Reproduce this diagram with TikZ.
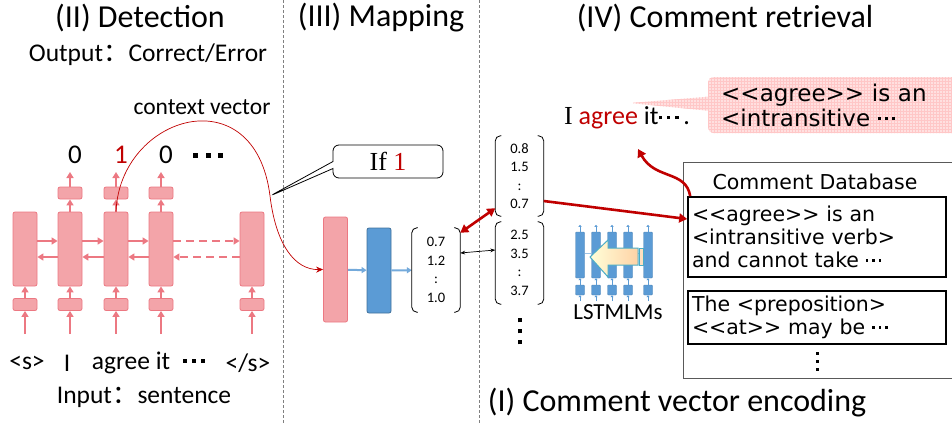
\documentclass[tikz,border=0pt]{standalone}
\usepackage{fontspec}
\setmainfont{Carlito}
\newfontfamily\dbfont{DejaVu Sans}
\newfontfamily\romfont{Liberation Serif}
\newfontfamily\cjkfont{Noto Sans CJK SC}
\usetikzlibrary{arrows.meta,positioning,shapes.callouts,patterns,calc}

\definecolor{cellpink}{RGB}{243,164,169}
\definecolor{cellline}{RGB}{236,120,130}
\definecolor{lmblue}{RGB}{91,155,213}
\definecolor{lmline}{RGB}{65,113,156}
\definecolor{darkred}{RGB}{192,0,0}
\definecolor{tealline}{RGB}{75,172,198}

% square dots: size, gap, raise
\newcommand{\sqdots}[3]{\rule[#3]{#1}{#1}\hspace{#2}\rule[#3]{#1}{#1}\hspace{#2}\rule[#3]{#1}{#1}}
\newcommand{\vsqdots}[2]{\vbox{\offinterlineskip\hbox{\rule{#1}{#1}}\kern#2\hbox{\rule{#1}{#1}}\kern#2\hbox{\rule{#1}{#1}}}}

\tikzset{
  head/.style={font=\fontsize{32}{36}\selectfont},
  sub/.style={font=\fontsize{25.5}{30}\selectfont},
  cell/.style={draw=cellline, fill=cellpink, rounded corners=2pt, line width=0.8pt,
    minimum width=24pt, minimum height=74pt, inner sep=0pt},
  gate/.style={cell, minimum height=12pt},
  lmbox/.style={draw=lmline, fill=lmblue, rounded corners=2pt, line width=0.8pt,
    minimum width=24pt, minimum height=85pt, inner sep=0pt},
  mbar/.style={fill=lmblue, draw=lmblue!85!black, line width=0.4pt, rounded corners=1pt,
    minimum width=9pt, minimum height=46pt, inner sep=0pt},
  mgate/.style={mbar, minimum height=10pt},
  parr/.style={draw=cellline, line width=2.2pt, -{Triangle[length=6pt,width=7pt]}},
  barr/.style={draw=lmblue!85, line width=2pt, -{Triangle[length=5pt,width=6pt]}},
  marr/.style={draw=lmblue, line width=0.8pt, -{Triangle[length=2pt,width=3pt]}},
  rarr/.style={draw=darkred, line width=2.6pt, -{Triangle[length=8pt,width=9pt]}},
  vec/.style={minimum width=48pt, inner sep=0pt, align=center,
    font=\fontsize{14.5}{18.5}\selectfont},
  brk/.style={line width=0.8pt, rounded corners=5pt},
  entry/.style={draw, line width=1.6pt, minimum width=258pt, text width=250pt,
    align=left, inner xsep=4pt, inner ysep=0pt, font=\dbfont\fontsize{20.5}{23}\selectfont},
}

\begin{document}
\begin{tikzpicture}[x=1pt, y=-1pt]
\useasboundingbox (0,0) rectangle (952,423);

% separators
\draw[gray, dash pattern=on 3pt off 2pt, line width=0.6pt] (283,0) -- (283,423);
\draw[gray, dash pattern=on 3pt off 2pt, line width=0.6pt] (479,0) -- (479,423);

% titles
\node[head] (t2) at (140,18) {(II) Detection};
\node[head] (t3) at (381,18) {(III) Mapping};
\node[head] (t4) at (725,18) {(IV) Comment retrieval};
\node[head] (t1) at (677,403) {(I) Comment vector encoding};

% =========================
% DETECTION
% =========================
\node[sub] (out) at (148,55) {Output{\cjkfont ：}Correct/Error};
\node[sub] (inp) at (144,397) {Input{\cjkfont ：}sentence};

\foreach \i/\x in {1/25,2/70,3/116,4/161,5/252}{
  \node[cell] (c\i) at (\x,249) {};
  \node[gate] (g\i) at (\x,304.5) {};
  \coordinate (s\i) at (\x,334);
  \draw[parr] (g\i) -- (c\i);
  \draw[parr] (s\i) -- (g\i);
}

\foreach \i/\x/\lab in {2/70/0,3/116/\textcolor{darkred}{1},4/161/0}{
  \node[gate] (o\i) at (\x,193) {};
  \coordinate (u\i) at (\x,172);
  \draw[parr] (c\i) -- (o\i);
  \draw[parr] (o\i) -- (u\i);
  \node[font=\fontsize{27}{30}\selectfont] (d\i) at (\x+5,155) {\lab};
}
\node (dd) at (208,155) {\sqdots{5pt}{7.5pt}{0pt}};

% forward / backward
\foreach \a/\b in {1/2,2/3,3/4}{
  \draw[parr] ([yshift=8pt]c\a.east) -- ([yshift=8pt]c\b.west);
  \draw[parr] ([yshift=-8pt]c\b.west) -- ([yshift=-8pt]c\a.east);
}
\draw[parr, dash pattern=on 8pt off 5pt] ([yshift=8pt]c4.east) -- ([yshift=8pt]c5.west);
\draw[parr, dash pattern=on 8pt off 5pt] ([yshift=-8pt]c5.west) -- ([yshift=-8pt]c4.east);

% words
\node[sub] (w1) at (27,363) {<s>};
\node[sub] (w2) at (67,363) {I};
\node[sub] (w3) at (131,363) {agree it};
\node[sub] (w4) at (194,363) {\sqdots{4pt}{5pt}{5pt}};
\node[sub] (w5) at (248,363) {</s>};

\node[font=\fontsize{23.5}{28}\selectfont] (ctx) at (202,107) {context vector};
\coordinate (cv) at (270,196);

% =========================
% MAPPING
% =========================
\node[cell, minimum height=105pt] (pk) at (335.5,269.5) {};
\node[lmbox] (bl) at (379,270.5) {};
\node[vec, minimum height=84pt] (v0) at (436,270) {0.7\\1.2\\:\\1.0};
\draw[barr] (pk) -- (bl);
\draw[barr] (bl) -- (v0);

\draw[darkred, line width=0.7pt, -{Stealth[length=7pt,width=6pt]}]
  (c3.north) .. controls (120,115) and (255,75) .. (cv)
  .. controls (276,245) and (295,270) .. (pk.west);

\node[draw, fill=white, line width=0.8pt, rounded corners=6pt, rectangle callout,
  callout absolute pointer={(cv)}, callout pointer width=7pt,
  minimum width=110pt, minimum height=33pt, font=\romfont\fontsize{26}{30}\selectfont]
  (ifb) at (388,161.5) {If \textcolor{darkred}{1}};

% =========================
% RETRIEVAL
% =========================
\node[vec, minimum height=80pt] (v1) at (519.5,176) {0.8\\1.5\\:\\0.7};
\node[vec, minimum height=82pt] (v2) at (519.5,263) {2.5\\3.5\\:\\3.7};
\node (vd) at (520,331) {\vsqdots{4.5pt}{6.5pt}};

\foreach \v in {v0,v1,v2}{
  \draw[brk] ([xshift=6pt]\v.north west) -- (\v.north west) -- (\v.south west) -- ([xshift=6pt]\v.south west);
  \draw[brk] ([xshift=-6pt]\v.north east) -- (\v.north east) -- (\v.south east) -- ([xshift=-6pt]\v.south east);
}

\draw[rarr, {Triangle[length=8pt,width=9pt]}-{Triangle[length=8pt,width=9pt]}]
  ([yshift=-5pt]v0.north east) -- ([yshift=8pt]v1.south west);
\draw[line width=0.7pt, {Stealth[length=5pt]}-{Stealth[length=5pt]}]
  ([yshift=17pt]v0.east) -- ([yshift=13pt]v2.west);

% LSTMLMs
\foreach \i/\x in {1/580,2/596,3/612,4/628,5/648}{
  \node[mbar] (m\i) at (\x,255) {};
  \node[mgate] (n\i) at (\x,290) {};
  \draw[marr] (n\i) -- (m\i);
  \draw[marr] ([yshift=-6pt]n\i.south) -- (n\i.south);
  \draw[marr] (m\i.north) -- ++(0,-7);
}
\foreach \a/\b in {1/2,2/3,3/4,4/5}{
  \draw[lmblue!60, line width=0.8pt] ([yshift=2pt]m\a.east) -- ([yshift=2pt]m\b.west);
}
\shade[left color=yellow!15, right color=orange!35, draw=tealline, line width=1pt]
  (590,257) -- (608,240) -- (608,248) -- (638,248) -- (638,265) -- (608,265) -- (608,277) -- cycle;
\draw[tealline, fill=orange!25, line width=0.8pt] (639,248) rectangle (643,265);
\node[font=\fontsize{23}{26}\selectfont] (lml) at (618,312) {LSTMLMs};

% sentence and comment
\node[font=\fontsize{26}{30}\selectfont] (sen) at (627,118)
  {{\romfont I} \textcolor{darkred}{agree} it\sqdots{3.5pt}{5pt}{5.5pt}\,.};
\coordinate (tip) at (630,103);
\node[rectangle callout, callout absolute pointer={(tip)}, callout pointer width=14pt,
  rounded corners=5pt, fill=red!12, postaction={pattern=grid, pattern color=red!22},
  anchor=west, minimum height=56pt, text width=230pt, inner xsep=13pt, align=left,
  font=\dbfont\fontsize{23}{25}\selectfont]
  (cmt) at (708,105) {<<agree>> is an\\<intransitive \sqdots{3pt}{4pt}{6pt}};

% database
\node[draw=gray!70!black, line width=0.8pt, minimum width=279pt, minimum height=216pt]
  (db) at (822.5,270) {};
\node[font=\dbfont\fontsize{20.5}{23}\selectfont] (dbt) at (815,182) {Comment Database};
\node[entry, minimum height=80pt] (e1) at (817,237)
  {<<agree>> is an\\<intransitive verb>\\and cannot take \sqdots{2.5pt}{4pt}{6pt}};
\node[entry, minimum height=53pt] (e2) at (817,317.5)
  {The <preposition>\\<<at>> may be \sqdots{2.5pt}{4pt}{6pt}};
\node (dbd) at (817,361) {\vsqdots{3pt}{5pt}};

\coordinate (ag) at (638,149);
\draw[rarr] ([yshift=-25pt]v1.east) -- ([yshift=18pt]e1.west);
\draw[rarr] ([xshift=3pt]e1.north west) .. controls (686,170) and (655,180) .. (ag);

\end{tikzpicture}
\end{document}
